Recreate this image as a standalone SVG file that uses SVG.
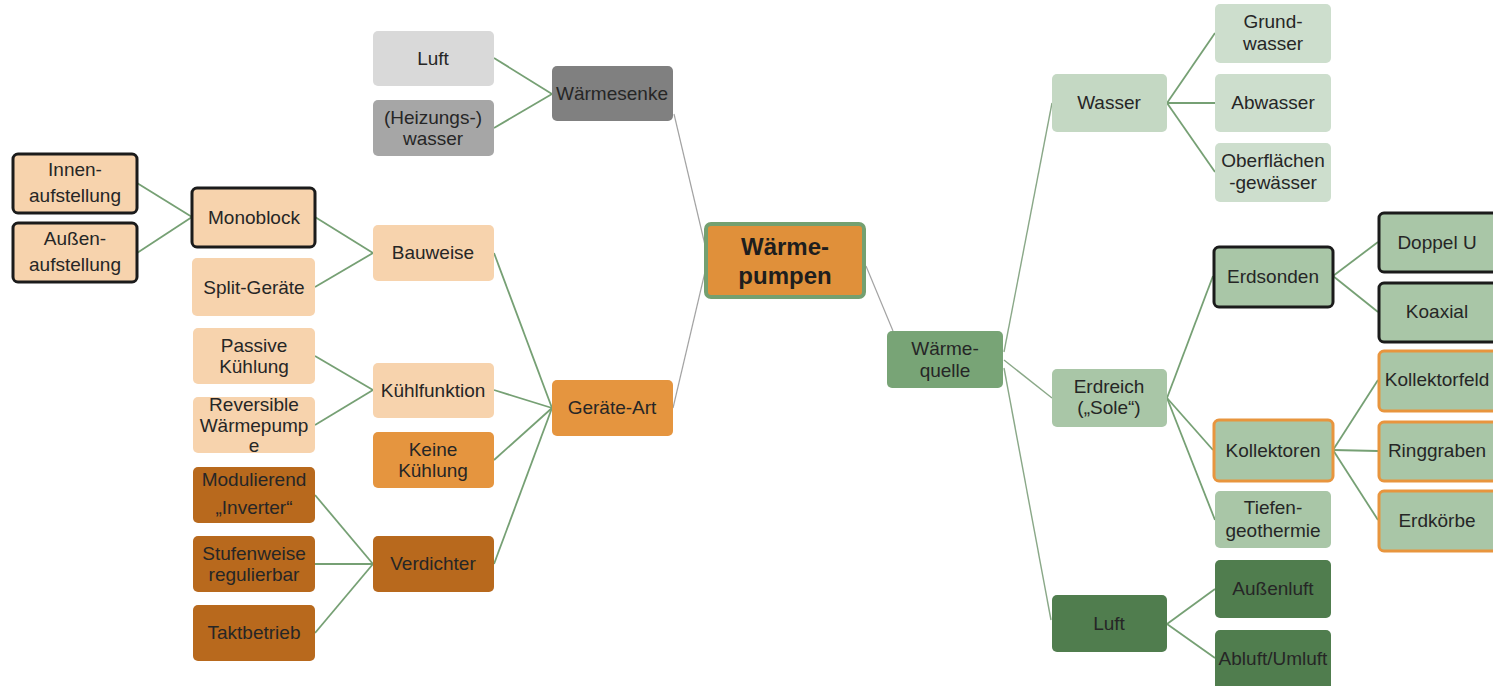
<svg xmlns="http://www.w3.org/2000/svg" width="1493" height="686" viewBox="0 0 1493 686">
  <style>
    text { font-family: "Liberation Sans", Arial, sans-serif; font-size: 19px; fill: #262626; text-anchor: middle; }
    .hub text { font-size: 24px; font-weight: bold; fill: #1e1e1e; }
    rect { rx: 5px; ry: 5px; }
    .peach rect { fill: #f7d3ad; }
    .orange rect { fill: #e5953f; }
    .brown rect { fill: #b8691d; }
    .grey1 rect { fill: #d9d9d9; }
    .grey2 rect { fill: #a6a6a6; }
    .grey3 rect { fill: #808080; }
    .g1 rect { fill: #cddecd; }
    .g2 rect { fill: #c4d8c3; }
    .g3 rect { fill: #a9c6a7; }
    .g4 rect { fill: #78a476; }
    .g5 rect { fill: #507d4e; }
    .black rect { stroke: #1b1b1b; stroke-width: 3; }
    .ring rect { stroke: #e8953e; stroke-width: 3; }
    .hub rect { fill: #e0903a; stroke: #74a070; stroke-width: 4; }
    .links line { stroke: #76a074; stroke-width: 1.8; }
    .links line.thin { stroke: #a3a3a3; stroke-width: 1.2; }
    .links line.soft { stroke: #8aa888; stroke-width: 1.4; }
  </style>

  <!-- connectors -->
  <g id="connectors" class="links">
    <line x1="137" y1="183" x2="192" y2="217"/>
    <line x1="137" y1="253" x2="192" y2="217"/>
    <line x1="315" y1="217" x2="373" y2="253"/>
    <line x1="315" y1="287" x2="373" y2="253"/>
    <line x1="494" y1="58" x2="552" y2="94"/>
    <line x1="494" y1="128" x2="552" y2="94"/>
    <line x1="315" y1="356" x2="373" y2="390"/>
    <line x1="315" y1="425" x2="373" y2="390"/>
    <line x1="315" y1="495" x2="373" y2="564"/>
    <line x1="315" y1="564" x2="373" y2="564"/>
    <line x1="315" y1="633" x2="373" y2="564"/>
    <line x1="494" y1="253" x2="552" y2="408"/>
    <line x1="494" y1="390" x2="552" y2="408"/>
    <line x1="494" y1="460" x2="552" y2="408"/>
    <line x1="494" y1="564" x2="552" y2="408"/>
    <line class="thin" x1="674" y1="114" x2="705" y2="245"/>
    <line class="thin" x1="673" y1="408" x2="705" y2="272"/>
    <line class="thin" x1="866" y1="266" x2="893" y2="331"/>
    <line class="soft" x1="1004" y1="352" x2="1052" y2="103"/>
    <line class="soft" x1="1004" y1="360" x2="1052" y2="398"/>
    <line class="soft" x1="1004" y1="368" x2="1051" y2="620"/>
    <line x1="1167" y1="103" x2="1215" y2="33"/>
    <line x1="1167" y1="103" x2="1215" y2="103"/>
    <line x1="1167" y1="103" x2="1215" y2="172"/>
    <line x1="1167" y1="398" x2="1213" y2="276"/>
    <line x1="1167" y1="398" x2="1213" y2="450"/>
    <line x1="1167" y1="398" x2="1215" y2="520"/>
    <line x1="1333" y1="276" x2="1378" y2="242"/>
    <line x1="1333" y1="276" x2="1378" y2="312"/>
    <line x1="1333" y1="450" x2="1378" y2="380"/>
    <line x1="1333" y1="450" x2="1378" y2="451"/>
    <line x1="1333" y1="450" x2="1378" y2="520"/>
    <line x1="1167" y1="624" x2="1215" y2="589"/>
    <line x1="1167" y1="624" x2="1215" y2="658"/>
  </g>

  <!-- heat sink branch -->
  <g id="senke-luft" class="grey1"><rect x="373" y="31" width="121" height="55"/><text x="433" y="65">Luft</text></g>
  <g id="senke-wasser" class="grey2"><rect x="373" y="100" width="121" height="56"/><text x="433" y="124">(Heizungs-)</text><text x="433" y="145">wasser</text></g>
  <g id="waermesenke" class="grey3"><rect x="552" y="66" width="121" height="55"/><text x="612" y="100">Wärmesenke</text></g>

  <!-- construction branch -->
  <g id="innen" class="peach black"><rect x="13" y="154" width="124" height="59"/><text x="75" y="176">Innen-</text><text x="75" y="202">aufstellung</text></g>
  <g id="aussen" class="peach black"><rect x="13" y="223" width="124" height="59"/><text x="75" y="245">Außen-</text><text x="75" y="271">aufstellung</text></g>
  <g id="monoblock" class="peach black"><rect x="192" y="188" width="123" height="59"/><text x="254" y="224">Monoblock</text></g>
  <g id="split" class="peach"><rect x="192" y="258" width="123" height="58"/><text x="254" y="294">Split-Geräte</text></g>
  <g id="bauweise" class="peach"><rect x="373" y="225" width="121" height="56"/><text x="433" y="259">Bauweise</text></g>

  <!-- cooling branch -->
  <g id="passiv" class="peach"><rect x="193" y="328" width="122" height="56"/><text x="254" y="352">Passive</text><text x="254" y="373">Kühlung</text></g>
  <g id="reversibel" class="peach"><rect x="193" y="397" width="122" height="56"/><text x="254" y="411">Reversible</text><text x="254" y="432">Wärmepump</text><text x="254" y="452">e</text></g>
  <g id="kuehlfunktion" class="peach"><rect x="373" y="363" width="121" height="55"/><text x="433" y="397">Kühlfunktion</text></g>
  <g id="keine-kuehlung" class="orange"><rect x="373" y="432" width="121" height="56"/><text x="433" y="456">Keine</text><text x="433" y="477">Kühlung</text></g>

  <!-- compressor branch -->
  <g id="modulierend" class="brown"><rect x="193" y="467" width="122" height="56"/><text x="254" y="486">Modulierend</text><text x="254" y="514">„Inverter“</text></g>
  <g id="stufenweise" class="brown"><rect x="193" y="536" width="122" height="56"/><text x="254" y="560">Stufenweise</text><text x="254" y="581">regulierbar</text></g>
  <g id="taktbetrieb" class="brown"><rect x="193" y="605" width="122" height="56"/><text x="254" y="639">Taktbetrieb</text></g>
  <g id="verdichter" class="brown"><rect x="373" y="536" width="121" height="56"/><text x="433" y="570">Verdichter</text></g>

  <g id="geraeteart" class="orange"><rect x="552" y="380" width="121" height="56"/><text x="612" y="414">Geräte-Art</text></g>

  <!-- root -->
  <g id="waermepumpen" class="hub"><rect x="706" y="224" width="158" height="73"/><text x="785" y="255">Wärme-</text><text x="785" y="284">pumpen</text></g>

  <!-- heat source branch -->
  <g id="waermequelle" class="g4"><rect x="887" y="331" width="116" height="57"/><text x="945" y="355">Wärme-</text><text x="945" y="377">quelle</text></g>

  <g id="wasser" class="g2"><rect x="1052" y="74" width="115" height="58"/><text x="1109" y="109">Wasser</text></g>
  <g id="grundwasser" class="g1"><rect x="1215" y="4" width="116" height="59"/><text x="1273" y="28">Grund-</text><text x="1273" y="50">wasser</text></g>
  <g id="abwasser" class="g1"><rect x="1215" y="74" width="116" height="58"/><text x="1273" y="109">Abwasser</text></g>
  <g id="oberflaechen" class="g1"><rect x="1215" y="143" width="116" height="59"/><text x="1273" y="167">Oberflächen</text><text x="1273" y="189">-gewässer</text></g>

  <g id="erdreich" class="g3"><rect x="1052" y="369" width="115" height="58"/><text x="1109" y="393">Erdreich</text><text x="1109" y="414">(„Sole“)</text></g>
  <g id="erdsonden" class="g3 black"><rect x="1214" y="247" width="119" height="60"/><text x="1273" y="283">Erdsonden</text></g>
  <g id="doppelu" class="g3 black"><rect x="1379" y="213" width="118" height="59"/><text x="1437" y="249">Doppel U</text></g>
  <g id="koaxial" class="g3 black"><rect x="1379" y="283" width="118" height="59"/><text x="1437" y="318">Koaxial</text></g>
  <g id="kollektoren" class="g3 ring"><rect x="1214" y="420" width="119" height="61"/><text x="1273" y="457">Kollektoren</text></g>
  <g id="kollektorfeld" class="g3 ring"><rect x="1379" y="351" width="118" height="60"/><text x="1437" y="386">Kollektorfeld</text></g>
  <g id="ringgraben" class="g3 ring"><rect x="1379" y="422" width="118" height="59"/><text x="1437" y="457">Ringgraben</text></g>
  <g id="erdkoerbe" class="g3 ring"><rect x="1379" y="491" width="118" height="60"/><text x="1437" y="527">Erdkörbe</text></g>
  <g id="tiefengeothermie" class="g3"><rect x="1215" y="491" width="116" height="57"/><text x="1273" y="514">Tiefen-</text><text x="1273" y="537">geothermie</text></g>

  <g id="luft" class="g5"><rect x="1052" y="595" width="115" height="57"/><text x="1109" y="630">Luft</text></g>
  <g id="aussenluft" class="g5"><rect x="1215" y="560" width="116" height="58"/><text x="1273" y="595">Außenluft</text></g>
  <g id="abluft" class="g5"><rect x="1215" y="630" width="116" height="60"/><text x="1273" y="665">Abluft/Umluft</text></g>
</svg>
